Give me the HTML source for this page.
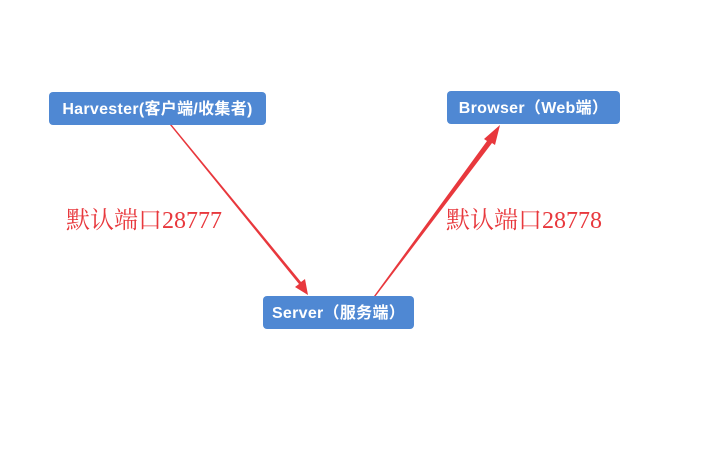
<!DOCTYPE html>
<html><head><meta charset="utf-8"><style>
body{margin:0;width:722px;height:457px;background:#fff;position:relative;overflow:hidden}
.b{position:absolute;background:#4f88d3;color:#fff;border-radius:4px;font:bold 16px "Liberation Sans","Noto Sans CJK SC",sans-serif;letter-spacing:0.3px;display:flex;align-items:center;justify-content:center;height:30px;padding-bottom:3px;white-space:nowrap}
.t{position:absolute;color:#e8383d;font:24px "Liberation Serif","Noto Serif CJK SC",serif;white-space:nowrap}
</style></head><body>
<svg width="722" height="457" style="position:absolute;left:0;top:0">
<polygon points="170,125 171,124 301,282 305,279 308,295 295,287 299,284" fill="#e8383d"/>
<polygon points="375,297 374,296 487,141 484,139 500,125 495,145 492,143" fill="#e8383d"/>
</svg>
<div class="b" style="left:49px;top:92px;width:217px">Harvester(客户端/收集者)</div>
<div class="b" style="left:447px;top:91px;width:173px">Browser（Web端）</div>
<div class="b" style="left:263px;top:296px;width:151px">Server（服务端）</div>
<div class="t" style="left:66px;top:200px">默认端口28777</div>
<div class="t" style="left:446px;top:200px">默认端口28778</div>
</body></html>
